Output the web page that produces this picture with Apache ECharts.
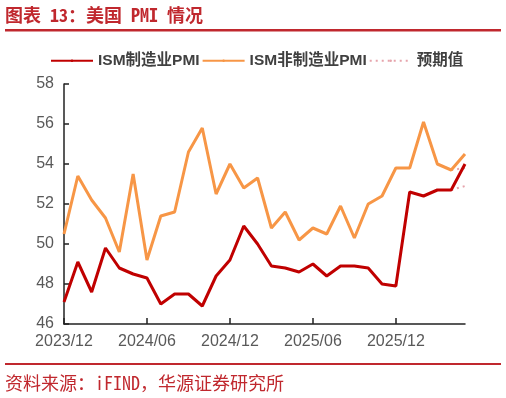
<!DOCTYPE html>
<html>
<head>
<meta charset="utf-8">
<script src="https://cdn.jsdelivr.net/npm/echarts@6/dist/echarts.min.js"></script>
<style>html,body{margin:0;padding:0;background:#fff;}#chart{width:506px;height:398px;}</style>
</head>
<body>
<div id="chart"></div>
<script>
const categories = ['2023/12','2024/01','2024/02','2024/03','2024/04','2024/05','2024/06','2024/07','2024/08','2024/09','2024/10','2024/11','2024/12','2025/01','2025/02','2025/03','2025/04','2025/05','2025/06','2025/07','2025/08','2025/09','2025/10','2025/11','2025/12','2026/01','2026/02','2026/03','2026/04','2026/05'];
const manufacturing = [47.1,49.1,47.6,49.8,48.8,48.5,48.3,47.0,47.5,47.5,46.9,48.4,49.2,50.9,50.0,48.9,48.8,48.6,49.0,48.4,48.9,48.9,48.8,48.0,47.9,52.6,52.4,52.7,52.7,54.0];
const services = [50.5,53.4,52.2,51.3,49.6,53.5,49.2,51.4,51.6,54.6,55.8,52.5,54.0,52.8,53.3,50.8,51.6,50.2,50.8,50.5,51.9,50.3,52.0,52.4,53.8,53.8,56.1,54.0,53.7,54.5];
const expectedManufacturing = [null,null,null,null,null,null,null,null,null,null,null,null,null,null,null,null,null,null,null,null,null,null,null,null,null,null,null,null,52.7,52.9];
const expectedServices = [null,null,null,null,null,null,null,null,null,null,null,null,null,null,null,null,null,null,null,null,null,null,null,null,null,null,null,null,53.7,53.8];
const yTicks = [46,48,50,52,54,56,58];

const chart = echarts.init(document.getElementById('chart'));
const titleRed = '#C0282E';
chart.setOption({
  animation: false,
  backgroundColor: '#fff',
  grid: {left: 64, right: 41, top: 84, bottom: 74},
  legend: {
    left: 45, top: 48,
    itemWidth: 42, itemHeight: 3, itemGap: 2,
    textStyle: {fontSize: 15.5, fontWeight: 'bold', color: '#404040', fontFamily: 'Arial, Liberation Sans, Noto Sans CJK SC'},
    data: ['ISM制造业PMI','ISM非制造业PMI','预期值']
  },
  xAxis: {
    type: 'category', data: categories, boundaryGap: false,
    axisLine: {lineStyle: {color: '#222', width: 1.5}},
    axisTick: {inside: true, length: 6, interval: 5, alignWithLabel: true, lineStyle: {color: '#222', width: 1.5}},
    axisLabel: {interval: 5, fontSize: 16, color: '#595959', margin: 10, fontFamily: 'Arial, Liberation Sans'}
  },
  yAxis: {
    type: 'value', min: yTicks[0], max: yTicks[yTicks.length-1], interval: 2,
    axisLine: {show: true, lineStyle: {color: '#222', width: 1.5}},
    axisTick: {show: true, inside: true, length: 5, lineStyle: {color: '#222', width: 1.5}},
    axisLabel: {fontSize: 16, color: '#595959', margin: 10, fontFamily: 'Arial, Liberation Sans'},
    splitLine: {show: false}
  },
  series: [
    {name: '预期值', type: 'line', data: expectedManufacturing, symbol: 'none', z: 1,
     lineStyle: {color: '#E6A4AC', width: 2, type: [2, 4]}, itemStyle: {color: '#E6A4AC'}},
    {name: '预期值', type: 'line', data: expectedServices, symbol: 'none', z: 1,
     lineStyle: {color: '#E6A4AC', width: 2, type: [2, 4]}, itemStyle: {color: '#E6A4AC'}},
    {name: 'ISM制造业PMI', type: 'line', data: manufacturing, symbol: 'none', z: 3,
     lineStyle: {color: '#C00000', width: 3}, itemStyle: {color: '#C00000'}},
    {name: 'ISM非制造业PMI', type: 'line', data: services, symbol: 'none', z: 2,
     lineStyle: {color: '#F79646', width: 3}, itemStyle: {color: '#F79646'}}
  ],
  graphic: [
    {type: 'text', left: 5, top: 6, style: {text: '图表 13：美国 PMI 情况', fill: titleRed, fontSize: 18, fontWeight: 'bold', fontFamily: 'Noto Sans Mono CJK SC, Noto Sans CJK SC'}},
    {type: 'rect', shape: {x: 5, y: 29, width: 496, height: 2.5}, style: {fill: titleRed}},
    {type: 'rect', shape: {x: 5, y: 363, width: 496, height: 2}, style: {fill: titleRed}},
    {type: 'text', left: 5, top: 374, style: {text: '资料来源：iFIND，华源证券研究所', fill: titleRed, fontSize: 18, fontFamily: 'Noto Sans Mono CJK SC, Noto Sans CJK SC'}}
  ]
});
</script>
</body>
</html>
